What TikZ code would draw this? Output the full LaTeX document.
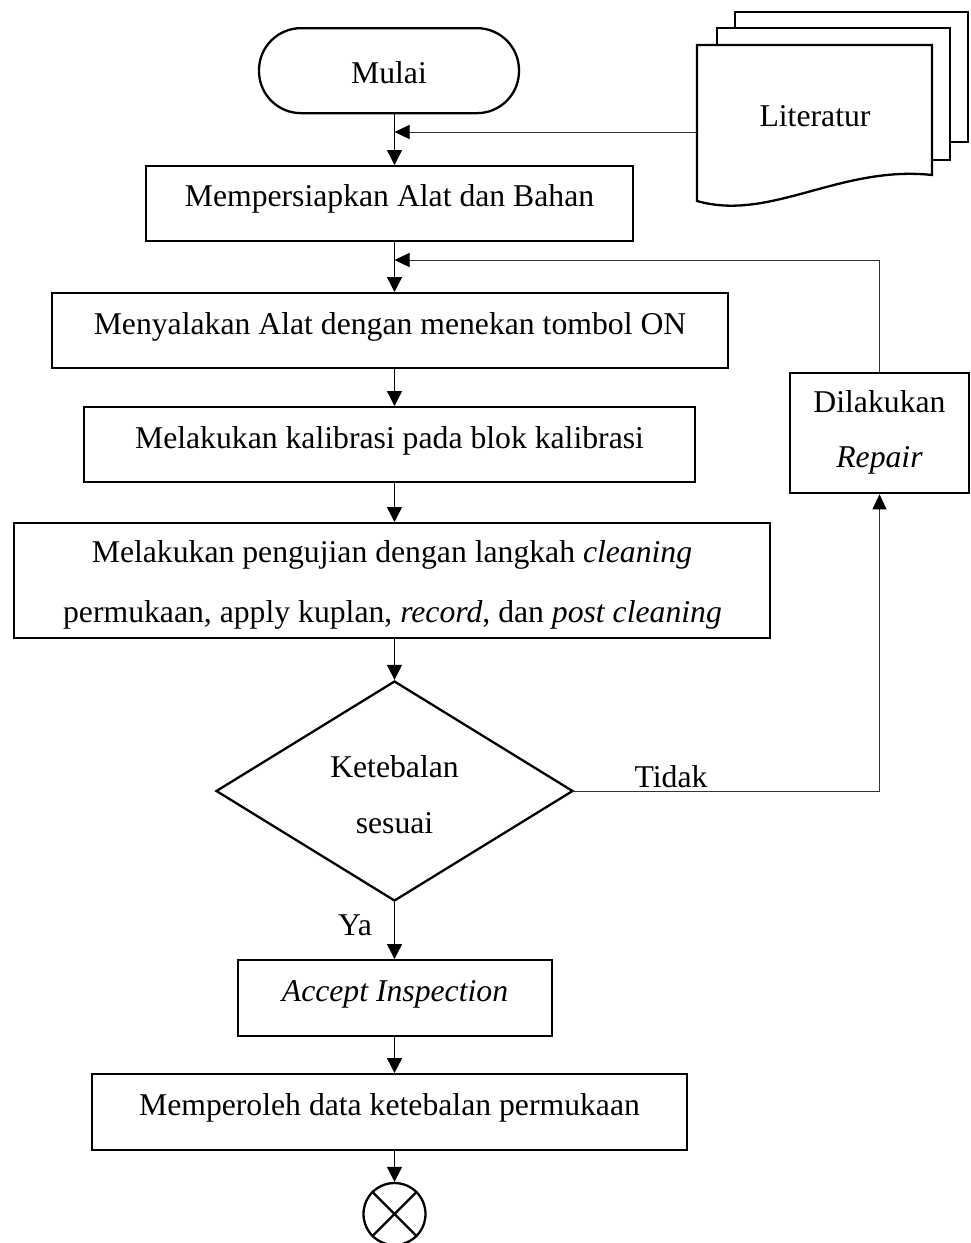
\documentclass[tikz,border=0pt]{standalone}
\usepackage{fontspec}
\setmainfont{Liberation Serif}
\usetikzlibrary{arrows.meta,shapes.geometric}
\newcommand\dgfont{\fontsize{31.7}{56}\selectfont}
\begin{document}
\begin{tikzpicture}[x=1pt,y=-1pt,
  every node/.style={font=\dgfont},
  box/.style={draw,line width=2.3pt,rectangle,inner xsep=0pt,inner ysep=0pt,anchor=north,
              text height=41pt,text depth=34pt},
  emptybox/.style={draw,line width=2.3pt,rectangle,inner sep=0pt,anchor=north},
  txt/.style={anchor=base,inner sep=0pt},
  arr/.style={line width=1.4pt,-{Triangle[length=15pt,width=15pt]}},
  thinarr/.style={line width=1pt,draw=black!80,-{Triangle[length=15pt,width=14pt,fill=black,color=black]}},
  doc/.style={draw,line width=2.3pt,fill=white,line join=miter}
]
\useasboundingbox (0,0) rectangle (971,1243);
\fill[white] (0,0) rectangle (971,1243);

\coordinate (spine) at (394.5,0);
\coordinate (j1) at (394.5,132);
\coordinate (j2) at (394.5,260);

% start terminator
\node[box,rounded corners=42pt,minimum width=260pt,text height=55pt,text depth=30pt] (start) at (389,27) {Mulai};

% document stack
\draw[doc] (735,12) rectangle (968,142);
\draw[doc] (717,28) rectangle (950,160);
\draw[doc] (697,45) -- (932,45) -- (932,175) .. controls (840,165) and (770,222) .. (697,201) -- cycle;
\node[txt] (lit) at (815,126) {Literatur};
\coordinate (litw) at (697,132);

% process boxes
\node[box,minimum width=487pt,text height=40pt,text depth=35pt] (b1) at (389.5,165) {Mempersiapkan Alat dan Bahan};
\node[box,minimum width=676pt] (b2) at (390,292) {Menyalakan Alat dengan menekan tombol ON};
\node[box,minimum width=611pt] (b3) at (389.5,406) {Melakukan kalibrasi pada blok kalibrasi};
\node[emptybox,minimum width=756pt,minimum height=115pt] (b4) at (392,522) {};
\node[txt] (b4a) at (392,562) {Melakukan pengujian dengan langkah \textit{cleaning}};
\node[txt] (b4b) at (392.5,622) {permukaan, apply kuplan, \textit{record}, dan \textit{post cleaning}};

% decision
\node[draw,diamond,line width=2.3pt,inner sep=0pt,aspect=1.62,minimum width=357pt,minimum height=220pt] (dia) at (394.5,791) {};
\node[txt] (dia1) at (394.5,777) {Ketebalan};
\node[txt] (dia2) at (394.5,833) {sesuai};

\node[box,minimum width=314pt,text height=41pt,text depth=35pt] (b5) at (395,959) {\textit{Accept Inspection}};
\node[box,minimum width=595pt,text height=41pt,text depth=35pt] (b6) at (389.5,1073) {Memperoleh data ketebalan permukaan};

% end
\node[draw,circle,line width=2.3pt,minimum size=62pt,inner sep=0pt] (endc) at (394.5,1214) {};
\draw[line width=2.3pt] (endc.north west) -- (endc.south east);
\draw[line width=2.3pt] (endc.north east) -- (endc.south west);

% repair
\node[emptybox,minimum width=179pt,minimum height=120pt] (rep) at (879.5,372) {};
\node[txt] (rep1) at (879.5,412) {Dilakukan};
\node[txt] (rep2) at (879.5,467) {\textit{Repair}};

% labels
\node[txt] (tidak) at (671,787) {Tidak};
\node[txt] (ya) at (355,935) {Ya};

% connectors
\draw[arr] (start.south -| spine) -- (b1.north -| spine);
\draw[thinarr] (litw) -- (j1);
\draw[arr] (b1.south -| spine) -- (b2.north -| spine);
\draw[arr] (b2.south -| spine) -- (b3.north -| spine);
\draw[arr] (b3.south -| spine) -- (b4.north -| spine);
\draw[arr] (b4.south -| spine) -- (dia.north);
\draw[arr] (dia.south) -- (b5.north -| dia.south);
\draw[arr] (b5.south -| spine) -- (b6.north -| spine);
\draw[arr] (b6.south -| spine) -- (endc.north);
\draw[thinarr] (dia.east) -| (rep.south);
\draw[thinarr] (rep.north) |- (j2);
\end{tikzpicture}
\end{document}
